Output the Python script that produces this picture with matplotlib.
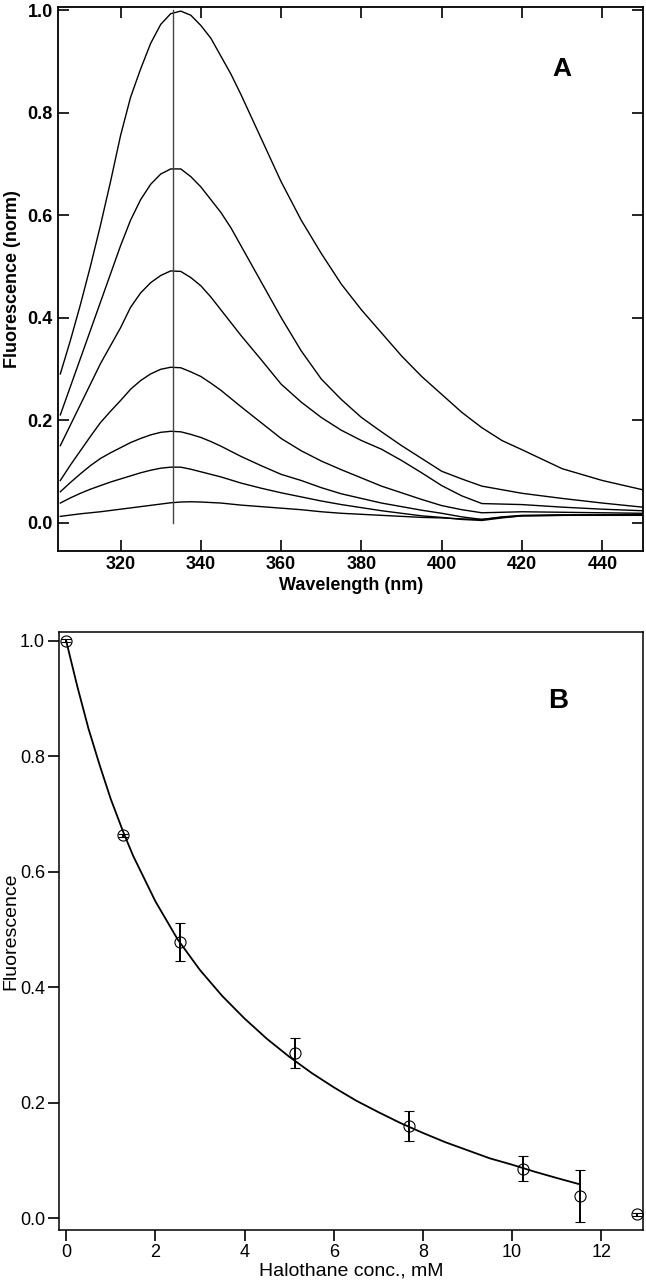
import matplotlib
matplotlib.use("Agg")
import matplotlib.pyplot as plt

# ---------------- Panel A data: emission spectra ----------------
wavelength = [305, 307.5, 310, 312.5, 315, 317.5, 320, 322.5, 325, 327.5, 330, 332.5, 335,
              337.5, 340, 342.5, 345, 347.5, 350, 355, 360, 365, 370, 375, 380, 385, 390,
              395, 400, 405, 410, 415, 420, 430, 440, 450]
spec_1 = [0.290, 0.355, 0.425, 0.500, 0.580, 0.665, 0.755, 0.830, 0.885, 0.935, 0.972, 0.993,
          0.998, 0.990, 0.970, 0.945, 0.910, 0.875, 0.835, 0.750, 0.665,
          0.590, 0.525, 0.465, 0.415, 0.370, 0.325, 0.285, 0.250, 0.215, 0.185, 0.160,
          0.142, 0.105, 0.082, 0.064]
spec_2 = [0.210, 0.265, 0.320, 0.375, 0.430, 0.485, 0.540, 0.590, 0.630, 0.660, 0.680, 0.690,
          0.690, 0.675, 0.655, 0.630, 0.605, 0.575, 0.540, 0.470, 0.400,
          0.335, 0.280, 0.240, 0.205, 0.177, 0.150, 0.125, 0.100, 0.085, 0.071, 0.064,
          0.057, 0.047, 0.038, 0.030]
spec_3 = [0.150, 0.190, 0.230, 0.270, 0.310, 0.345, 0.380, 0.420, 0.448, 0.468, 0.482, 0.491,
          0.490, 0.478, 0.462, 0.440, 0.415, 0.390, 0.365, 0.318, 0.270,
          0.235, 0.205, 0.180, 0.160, 0.143, 0.121, 0.097, 0.072, 0.052, 0.037, 0.036,
          0.035, 0.030, 0.026, 0.023]
spec_4 = [0.082, 0.112, 0.140, 0.168, 0.195, 0.217, 0.238, 0.260, 0.277, 0.290, 0.299, 0.303,
          0.302, 0.294, 0.285, 0.272, 0.258, 0.242, 0.226, 0.195, 0.164,
          0.140, 0.120, 0.103, 0.087, 0.071, 0.058, 0.045, 0.033, 0.025, 0.019, 0.020,
          0.021, 0.020, 0.019, 0.018]
spec_5 = [0.060, 0.078, 0.095, 0.111, 0.125, 0.136, 0.146, 0.156, 0.164, 0.171, 0.176, 0.178,
          0.177, 0.172, 0.166, 0.158, 0.149, 0.139, 0.129, 0.111, 0.094,
          0.082, 0.068, 0.056, 0.047, 0.038, 0.031, 0.024, 0.018, 0.011, 0.006, 0.011,
          0.014, 0.015, 0.015, 0.015]
spec_6 = [0.038, 0.048, 0.057, 0.065, 0.072, 0.079, 0.085, 0.091, 0.097, 0.102, 0.106, 0.108,
          0.108, 0.104, 0.099, 0.094, 0.089, 0.083, 0.077, 0.067, 0.058,
          0.050, 0.042, 0.035, 0.029, 0.023, 0.018, 0.013, 0.010, 0.006, 0.004, 0.009,
          0.013, 0.014, 0.014, 0.014]
spec_7 = [0.012, 0.0145, 0.017, 0.019, 0.021, 0.0235, 0.026, 0.0285, 0.031, 0.0335, 0.036,
          0.0385, 0.040, 0.0405, 0.040, 0.039, 0.038, 0.036, 0.034, 0.031, 0.028,
          0.025, 0.021, 0.018, 0.016, 0.014, 0.012, 0.010, 0.009, 0.007, 0.006, 0.010,
          0.013, 0.014, 0.015, 0.016]
spectra = [spec_1, spec_2, spec_3, spec_4, spec_5, spec_6, spec_7]
peak_wavelength = 333
peak_line_range = [0.0, 1.0]

# ---------------- Panel B data: quenching ----------------
halothane_mM = [0.0, 1.28, 2.56, 5.12, 7.68, 10.24, 11.52, 12.8]
fluor_mean = [1.000, 0.663, 0.479, 0.286, 0.160, 0.086, 0.039, 0.007]
fluor_err = [0.003, 0.002, 0.033, 0.026, 0.026, 0.022, 0.045, 0.002]

fit_x = [0.0, 0.25, 0.5, 0.75, 1.0, 1.28, 1.5, 2.0, 2.5, 3.0, 3.5, 4.0, 4.5, 5.0, 5.5,
         6.0, 6.5, 7.0, 7.5, 8.0, 8.5, 9.0, 9.5, 10.0, 10.5, 11.0, 11.52]
fit_y = [1.000, 0.921, 0.848, 0.785, 0.726, 0.669, 0.628, 0.549, 0.483, 0.430, 0.385,
         0.346, 0.311, 0.280, 0.252, 0.227, 0.204, 0.184, 0.165, 0.148, 0.132, 0.118,
         0.104, 0.093, 0.081, 0.070, 0.059]

# ---------------- Figure ----------------
fig = plt.figure(figsize=(6.46, 12.8), dpi=100)
fam = ["Liberation Sans", "DejaVu Sans"]
bold_font = dict(family=fam, weight="bold")
norm_font = dict(family=fam)

# Panel A
axA = fig.add_axes([58.3 / 646, 1 - 550.7 / 1280, 585 / 646, 543.7 / 1280])
for s in spectra:
    axA.plot(wavelength, s, color="black", lw=1.0)
axA.plot([peak_wavelength, peak_wavelength], peak_line_range, color="#444444", lw=1.0)
axA.set_xlim(304.5, 450.2)
axA.set_ylim(-0.055, 1.006)
axA.set_xticks([320, 340, 360, 380, 400, 420, 440])
axA.set_yticks([0.0, 0.2, 0.4, 0.6, 0.8, 1.0])
axA.set_yticklabels(["0.0", "0.2", "0.4", "0.6", "0.8", "1.0"])
axA.tick_params(direction="in", length=8, width=1.2, top=True, right=True,
                labelsize=13, pad=4)
for lab in axA.get_xticklabels() + axA.get_yticklabels():
    lab.set_fontweight("bold")
    lab.set_family(fam)
for sp in axA.spines.values():
    sp.set_linewidth(1.3)
axA.set_xlabel("Wavelength (nm)", fontsize=13, labelpad=3, **bold_font)
axA.set_ylabel("Fluorescence (norm)", fontsize=13, **bold_font)
axA.yaxis.set_label_coords(-0.064, 0.5)
axA.text(429.8, 0.885, "A", fontsize=19, ha="center", va="center", **bold_font)

# Panel B
axB = fig.add_axes([59 / 646, 1 - 1230 / 1280, 584.3 / 646, 597.7 / 1280])
axB.plot(fit_x, fit_y, color="black", lw=1.3)
axB.errorbar(halothane_mM, fluor_mean, yerr=fluor_err, fmt="o", mfc="none",
             mec="black", mew=0.8, ms=8, ecolor="black", elinewidth=1.4,
             capsize=3.5, capthick=1.4)
axB.set_xlim(-0.16, 12.94)
axB.set_ylim(-0.02, 1.0145)
axB.set_xticks([0, 2, 4, 6, 8, 10, 12])
axB.set_yticks([0.0, 0.2, 0.4, 0.6, 0.8, 1.0])
axB.set_yticklabels(["0.0", "0.2", "0.4", "0.6", "0.8", "1.0"])
axB.tick_params(direction="out", length=8, width=1.2, labelsize=13, pad=2)
for lab in axB.get_xticklabels() + axB.get_yticklabels():
    lab.set_family(fam)
for sp in axB.spines.values():
    sp.set_linewidth(1.1)
axB.set_xlabel("Halothane conc., mM", fontsize=14, labelpad=1, **norm_font)
axB.set_ylabel("Fluorescence", fontsize=14, **norm_font)
axB.yaxis.set_label_coords(-0.068, 0.5)
axB.text(11.04, 0.895, "B", fontsize=20, ha="center", va="center", **bold_font)

fig.savefig("out.png", dpi=100)
